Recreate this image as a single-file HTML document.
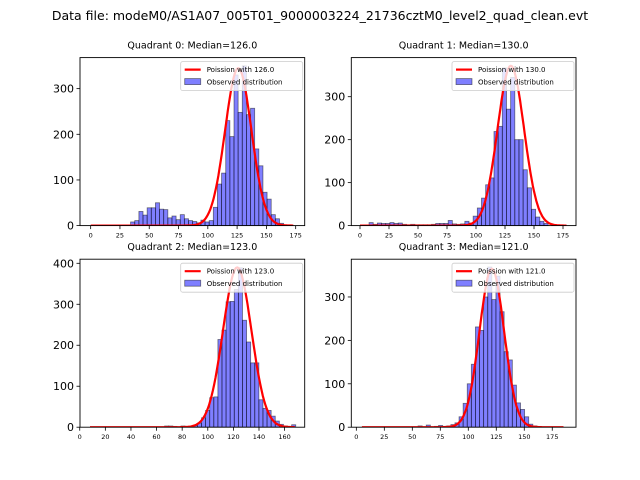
<!DOCTYPE html>
<html><head><meta charset="utf-8"><style>
body{margin:0;background:#fff;}
svg{display:block;font-family:"DejaVu Sans","Liberation Sans",sans-serif;}
</style></head><body>
<svg id="fig" width="640" height="480">
<text x="320" y="20" text-anchor="middle" font-size="12.5">Data file: modeM0/AS1A07_005T01_9000003224_21736cztM0_level2_quad_clean.evt</text>
</svg>
<script>
// ---- data ----
const titles = ["Quadrant 0: Median=126.0","Quadrant 1: Median=130.0","Quadrant 2: Median=123.0","Quadrant 3: Median=121.0"];
const lambdas = [126, 130, 123, 121];
const curvePeaks = [345, 372, 390, 365];
const curveRanges = [[0,173],[0,178],[8,168],[5,185]];
const binStarts = [34.1, 7.8, 8.7, 3.9];
const binWidths = [3.53, 3.59, 3.2, 3.66];
const q0Counts = [8,11,31,23,39,39,50,36,35,17,21,13,24,15,11,9,6,12,8,11,40,91,115,230,195,330,248,350,243,257,168,131,73,58,24,15,5];
const q1Counts = [7,3,6,5,5,7,5,6,3,2,3,2,2,2,2,3,5,5,5,12,4,3,4,10,6,22,41,64,95,111,219,231,367,271,345,200,200,130,88,38,20,10,5];
const q2Counts = [0,0,0,0,0,0,0,0,0,0,0,0,0,0,0,0,0,0,3,3,2,0,3,1,1,4,10,23,41,72,74,214,237,306,307,336,389,261,208,157,157,67,46,41,27,15,7,3,0,6];
const q3Counts = [0,0,0,0,0,0,0,0,0,0,0,0,0,0,3,0,5,0,2,4,2,3,6,10,24,55,100,145,231,223,300,369,294,348,266,174,155,97,56,41,24,7,3];
const counts = [q0Counts,q1Counts,q2Counts,q3Counts];
const xDomains = [[-9.1,182.7],[-7.5,186.2],[0.2,175.7],[-4.5,196.2]];
const yMaxes = [368, 391, 410, 387];
const xTicks = [[0,25,50,75,100,125,150,175],[0,25,50,75,100,125,150,175],[0,20,40,60,80,100,120,140,160],[0,25,50,75,100,125,150,175]];
const yTicks = [[0,100,200,300],[0,100,200,300],[0,100,200,300,400],[0,100,200,300]];
// ---- layout ----
const boxes = [[80,57.6,224.7,168],[351.3,57.6,224.7,168],[80,259.2,224.7,168],[351.3,259.2,224.7,168]];
const NS="http://www.w3.org/2000/svg";
const fig=document.getElementById('fig');
function mk(tag,attrs,parent){const e=document.createElementNS(NS,tag);for(const k in attrs)e.setAttribute(k,attrs[k]);(parent||fig).appendChild(e);return e;}
for(let q=0;q<4;q++){
  const [bx,by,bw,bh]=boxes[q];
  const g=mk('g',{});
  
  
  const xs=v=>bx+(v-xDomains[q][0])/(xDomains[q][1]-xDomains[q][0])*bw;
  const ys=v=>by+bh-v/yMaxes[q]*bh;
  const t=mk('text',{x:bx+bw/2,y:by-9,'text-anchor':'middle','font-size':'9.5'},g);
  t.textContent=titles[q];
  
  
  const cg=mk('g',{'clip-path':'url(#clip'+q+')'},g);
  const cp=mk('clipPath',{id:'clip'+q},g);mk('rect',{x:bx,y:by,width:bw,height:bh},cp);
  const c=counts[q];
  for(let i=0;i<c.length;i++){
    if(c[i]<=0)continue;
    const x0=binStarts[q]+i*binWidths[q];
    const r=mk('rect',{x:xs(x0),y:ys(c[i]),width:xs(x0+binWidths[q])-xs(x0),height:ys(0)-ys(c[i]),fill:'rgba(0,0,255,0.5)',stroke:'rgba(0,0,0,0.5)','stroke-width':'0.8'},cg);
    
    
  }
  let d='';const s=Math.sqrt(lambdas[q]);
  for(let v=curveRanges[q][0];v<=curveRanges[q][1];v+=1){
    const y=curvePeaks[q]*Math.exp(-Math.pow(v-lambdas[q],2)/(2*s*s));
    d+=(d?'L':'M')+xs(v).toFixed(1)+','+ys(y).toFixed(1);
  }
  const p=mk('path',{d:d,fill:'none',stroke:'#ff0000','stroke-width':'2.2'},cg);
  
  
  const fr=mk('rect',{x:bx,y:by,width:bw,height:bh,fill:'none',stroke:'#000','stroke-width':'0.9'},g);
  
  
  xTicks[q].forEach(v=>{
    mk('line',{x1:xs(v),x2:xs(v),y1:by+bh,y2:by+bh+3.5,stroke:'#000','stroke-width':'0.8'},g);
    const tt=mk('text',{x:xs(v),y:by+bh+12,'text-anchor':'middle','font-size':'6.5'},g);
    tt.textContent=v;
    
    
  });
  yTicks[q].forEach(v=>{
    mk('line',{x1:bx-3.5,x2:bx,y1:ys(v),y2:ys(v),stroke:'#000','stroke-width':'0.8'},g);
    const tt=mk('text',{x:bx-6,y:ys(v)+4,'text-anchor':'end','font-size':'11'},g);
    tt.textContent=v;
    
    
  });
  const lg=mk('g',{},g);
  
  
  const lx=bx+bw-124,ly=by+4;
  mk('rect',{x:lx,y:ly,width:122,height:29,fill:'rgba(255,255,255,0.8)',stroke:'#ccc','stroke-width':'0.8',rx:2},lg);
  mk('line',{x1:lx+4,x2:lx+20,y1:ly+8,y2:ly+8,stroke:'#ff0000','stroke-width':'2.2'},lg);
  const l1=mk('text',{x:lx+26,y:ly+10.5,'font-size':'7'},lg);l1.textContent='Poission with '+lambdas[q].toFixed(1);
  
  
  mk('rect',{x:lx+4,y:ly+17,width:16,height:6,fill:'rgba(0,0,255,0.5)',stroke:'rgba(0,0,0,0.5)','stroke-width':'0.8'},lg);
  const l2=mk('text',{x:lx+26,y:ly+23,'font-size':'7'},lg);l2.textContent='Observed distribution';
  
  
}
</script>
</body></html>
